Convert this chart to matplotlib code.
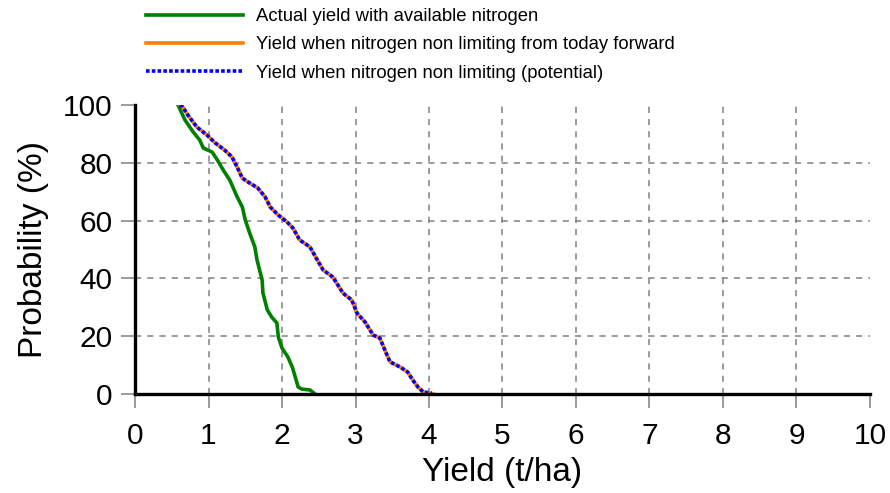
import matplotlib
matplotlib.use("Agg")
from matplotlib import pyplot as plt

plt.rcParams['font.family'] = ['Liberation Sans', 'DejaVu Sans']

# probability of exceedance curves (yield t/ha, probability %)
actual_yield = [0.585, 0.68, 0.79, 0.88, 0.93, 1.05, 1.12, 1.20, 1.29, 1.39, 1.46, 1.50,
                1.56, 1.63, 1.66, 1.73, 1.74, 1.80, 1.86, 1.93, 1.95, 2.00, 2.08, 2.14,
                2.18, 2.22, 2.27, 2.38, 2.45]
actual_prob = [100, 94.8, 90.7, 87.9, 85.1, 83.7, 81.0, 77.5, 74.0, 68.2, 64.7, 60.2,
               55.7, 50.9, 46.4, 39.4, 35.0, 29.1, 26.6, 24.6, 19.7, 15.9, 12.8, 9.3,
               5.9, 2.4, 1.7, 1.4, 0]

today_yield = [0.61, 0.65, 0.72, 0.84, 0.98, 1.09, 1.22, 1.32, 1.39, 1.46, 1.56, 1.67,
               1.77, 1.84, 1.95, 2.07, 2.15, 2.24, 2.38, 2.48, 2.56, 2.69, 2.83, 2.95,
               3.02, 3.13, 3.24, 3.33, 3.40, 3.47, 3.61, 3.71, 3.78, 3.85, 3.92, 4.06]
today_prob = [100, 99.3, 96.5, 92.4, 89.6, 86.9, 84.4, 82.0, 78.5, 74.7, 73.0, 71.3,
              68.2, 64.7, 61.9, 59.5, 57.4, 53.3, 50.9, 46.4, 42.9, 40.5, 34.9, 32.5,
              28.0, 24.9, 20.4, 19.4, 15.2, 11.1, 9.3, 7.6, 4.8, 2.4, 0.7, 0]

potential_yield = [0.61, 0.65, 0.72, 0.84, 0.98, 1.09, 1.22, 1.32, 1.39, 1.46, 1.56, 1.67,
                   1.77, 1.84, 1.95, 2.07, 2.15, 2.24, 2.38, 2.48, 2.56, 2.69, 2.83, 2.95,
                   3.02, 3.13, 3.24, 3.33, 3.40, 3.47, 3.61, 3.71, 3.78, 3.85, 3.92, 4.04]
potential_prob = [100, 99.3, 96.5, 92.4, 89.6, 86.9, 84.4, 82.0, 78.5, 74.7, 73.0, 71.3,
                  68.2, 64.7, 61.9, 59.5, 57.4, 53.3, 50.9, 46.4, 42.9, 40.5, 34.9, 32.5,
                  28.0, 24.9, 20.4, 19.4, 15.2, 11.1, 9.3, 7.6, 4.8, 2.4, 0.7, 0.3]

x_ticks = list(range(0, 11))
y_ticks = [0, 20, 40, 60, 80, 100]

fig = plt.figure(figsize=(8.9, 4.93), dpi=100)
ax = fig.add_axes([0.1517, 0.2008, 0.8258, 0.5862])

ax.plot(actual_yield, actual_prob, color='#008000', lw=2.6,
        label='Actual yield with available nitrogen', zorder=3)
ax.plot(today_yield, today_prob, color='#ff8000', lw=2.6,
        label='Yield when nitrogen non limiting from today forward', zorder=3)
ax.plot(potential_yield, potential_prob, color='#0000ff', lw=2.6, linestyle=(0, (1, 0.6)),
        label='Yield when nitrogen non limiting (potential)', zorder=4)

ax.set_xlim(0, 10)
ax.set_ylim(0, 100)
ax.set_xticks(x_ticks)
ax.set_yticks(y_ticks)

# dashed grid, no line on the limits
for x in x_ticks[1:-1]:
    ax.axvline(x, color='#808080', lw=1.1, ls=(0, (4, 4)), zorder=1)
for y in y_ticks[1:-1]:
    ax.axhline(y, color='#808080', lw=1.1, ls=(0, (4, 4)), zorder=1)

for s in ['top', 'right']:
    ax.spines[s].set_visible(False)
for s in ['left', 'bottom']:
    ax.spines[s].set_linewidth(2.4)
    ax.spines[s].set_color('black')
    ax.spines[s].set_zorder(5)

ax.tick_params(axis='both', direction='out', length=10, width=1.1, color='#808080',
               labelsize=21.5)
ax.tick_params(axis='x', pad=10)
ax.tick_params(axis='y', pad=6)

ax.set_xlabel('Yield (t/ha)', fontsize=24, labelpad=5)
ax.set_ylabel('Probability (%)', fontsize=24, labelpad=10)

fig.legend(loc='upper left', bbox_to_anchor=(0.149, 1.01), frameon=False, fontsize=13.3,
           handlelength=5.3, handletextpad=0.7, labelspacing=0.62, borderpad=0.2)

fig.savefig('out.png', dpi=100)
